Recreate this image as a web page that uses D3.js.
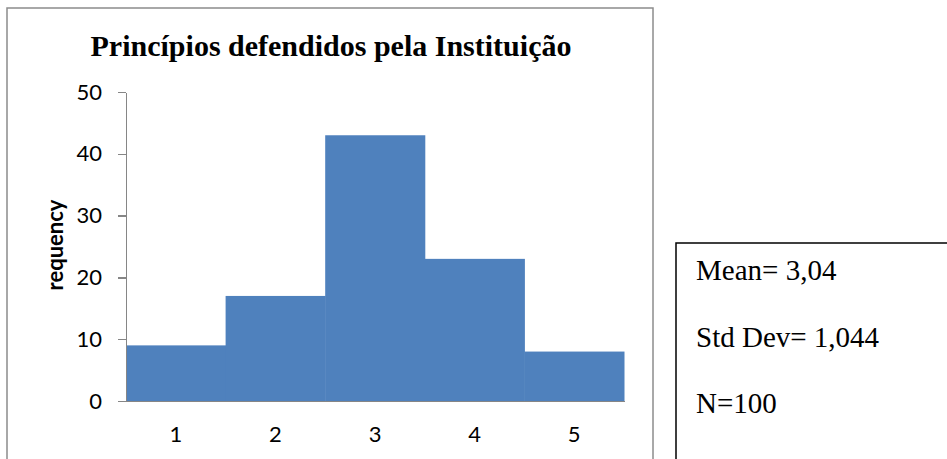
<!DOCTYPE html>
<meta charset="utf-8">
<style>
body { margin: 0; background: #fff; }
.axis path, .axis line { stroke: #868686; stroke-width: 1.5px; shape-rendering: crispEdges; }
.axis text { font-family: Lato, "Open Sans", sans-serif; font-size: 22px; fill: #000; }
</style>
<body>
<div id="chart"></div>
<script src="https://d3js.org/d3.v7.min.js"></script>
<script>
const categories = ["1", "2", "3", "4", "5"];
const counts = [9, 17, 43, 23, 8];
const yTicks = [0, 10, 20, 30, 40, 50];
const title = "Princípios defendidos pela Instituição";
const yTitle = "requency";
const stats = ["Mean= 3,04", "Std Dev= 1,044", "N=100"];

const width = 947, height = 459;
const margin = {top: 92, right: 323, bottom: 58, left: 126};

const svg = d3.select("#chart").append("svg")
  .attr("width", width).attr("height", height);

// chart frame
svg.append("rect")
  .attr("x", 7).attr("y", 8)
  .attr("width", 646).attr("height", 470)
  .attr("fill", "none").attr("stroke", "#8c8c8c").attr("stroke-width", 1.5);

const x = d3.scaleBand()
  .domain(categories)
  .range([margin.left, width - margin.right])
  .padding(0);

const y = d3.scaleLinear()
  .domain([0, 50])
  .range([height - margin.bottom, margin.top]);

svg.append("g")
  .selectAll("rect")
  .data(counts)
  .join("rect")
    .attr("x", (d, i) => x(categories[i]))
    .attr("y", d => y(d))
    .attr("width", x.bandwidth() + 0.5)
    .attr("height", d => y(0) - y(d))
    .attr("fill", "#4f81bd");

svg.append("g")
  .attr("class", "axis")
  .attr("transform", `translate(${margin.left},0)`)
  .call(d3.axisLeft(y).tickValues(yTicks).tickSize(8).tickSizeOuter(0).tickPadding(16));

svg.append("g")
  .attr("class", "axis")
  .attr("transform", `translate(0,${y(0)})`)
  .call(d3.axisBottom(x).tickSize(0).tickSizeOuter(0).tickPadding(25));

svg.append("text")
  .attr("transform", `translate(63,245) rotate(-90)`)
  .attr("text-anchor", "middle")
  .attr("font-family", "Lato, 'Open Sans', sans-serif")
  .attr("font-weight", "bold")
  .attr("font-size", "22px")
  .text(yTitle);

svg.append("text")
  .attr("x", 331).attr("y", 56)
  .attr("text-anchor", "middle")
  .attr("font-family", "'Liberation Serif', 'Times New Roman', serif")
  .attr("font-weight", "bold")
  .attr("font-size", "30px")
  .text(title);

// stats box
svg.append("rect")
  .attr("x", 676).attr("y", 243)
  .attr("width", 300).attr("height", 260)
  .attr("fill", "#fff").attr("stroke", "#000").attr("stroke-width", 1.5);

svg.append("g")
  .selectAll("text")
  .data(stats)
  .join("text")
    .attr("x", 696)
    .attr("y", (d, i) => 280 + i * 66.5)
    .attr("font-family", "'Liberation Serif', 'Times New Roman', serif")
    .attr("font-size", "29px")
    .text(d => d);
</script>
</body>
